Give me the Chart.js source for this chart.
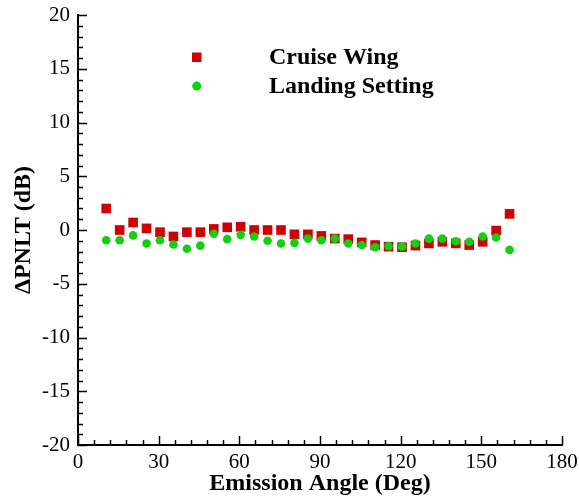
<!DOCTYPE html>
<html>
<head>
	<title></title>
	<script src="https://cdn.jsdelivr.net/npm/chart.js@4.4.1/dist/chart.umd.min.js"></script>
	<style>
		body { margin: 0; background: #fff; }
	</style>
</head>
<body>
	<canvas id="chart" width="579" height="498"></canvas>
	<script>
		// emission angles (deg)
		var angles = [10.5, 15.5, 20.5, 25.5, 30.5, 35.5, 40.5, 45.5, 50.5, 55.5, 60.5, 65.5, 70.5, 75.5, 80.5, 85.5,
			90.5, 95.5, 100.5, 105.5, 110.5, 115.5, 120.5, 125.5, 130.5, 135.5, 140.5, 145.5, 150.5, 155.5, 160.5];
		var cruiseWing = [2.0, 0.0, 0.7, 0.15, -0.2, -0.6, -0.2, -0.2, 0.1, 0.25, 0.3, 0.0, 0.0, 0.0, -0.4, -0.4,
			-0.55, -0.8, -0.85, -1.15, -1.4, -1.55, -1.6, -1.45, -1.25, -1.1, -1.25, -1.4, -1.1, -0.05, 1.5];
		var landingSetting = [-0.95, -0.95, -0.5, -1.25, -0.95, -1.35, -1.75, -1.45, -0.35, -0.85, -0.45, -0.6, -1.0, -1.25, -1.2, -0.8,
			-0.95, -0.8, -1.25, -1.4, -1.6, -1.5, -1.55, -1.25, -0.8, -0.8, -1.05, -1.1, -0.6, -0.7, -1.85];
		var xTicks = [0, 30, 60, 90, 120, 150, 180];
		var yTicks = [-20, -15, -10, -5, 0, 5, 10, 15, 20];

		var serif = "'Liberation Serif', 'Times New Roman', serif";

		function pts(ys) {
			var out = [];
			for (var i = 0; i < angles.length; i++) out.push({x: angles[i], y: ys[i]});
			return out;
		}

		// inward tick marks + legend
		var decor = {
			id: 'decor',
			afterDraw: function(chart) {
				var ctx = chart.ctx, a = chart.chartArea;
				var xs = chart.scales.x, ys = chart.scales.y;
				ctx.save();
				ctx.strokeStyle = '#000';
				ctx.lineWidth = 1.5;
				ctx.beginPath();
				for (var v = 0; v <= 180; v += 6) {
					var px = Math.round(xs.getPixelForValue(v)) + 0.5;
					var len = (v % 30 == 0) ? 9 : 5;
					ctx.moveTo(px, a.bottom);
					ctx.lineTo(px, a.bottom - len);
				}
				for (var w = -20; w <= 20; w += 1) {
					var py = Math.round(ys.getPixelForValue(w)) + 0.5;
					var l2 = (w % 5 == 0) ? 9 : 5;
					ctx.moveTo(a.left, py);
					ctx.lineTo(a.left + l2, py);
				}
				ctx.stroke();

				// legend
				var ds = chart.data.datasets;
				var ly = [57, 86];
				ctx.font = 'bold 24px ' + serif;
				ctx.textBaseline = 'middle';
				ctx.textAlign = 'left';
				for (var i = 0; i < ds.length; i++) {
					ctx.fillStyle = ds[i].backgroundColor;
					if (ds[i].pointStyle == 'rect') {
						ctx.fillRect(192, ly[i] - 4.5, 9.5, 9.5);
					} else {
						ctx.beginPath();
						ctx.arc(196.7, ly[i], 4.5, 0, Math.PI * 2);
						ctx.fill();
					}
					ctx.fillStyle = '#000';
					ctx.fillText(ds[i].label, 269, ly[i] + 1);
				}
				ctx.restore();
			}
		};

		var ctx = document.getElementById('chart').getContext('2d');
		window.chart = new Chart(ctx, {
			type: 'scatter',
			data: {
				datasets: [{
					label: 'Cruise Wing',
					data: pts(cruiseWing),
					order: 2,
					pointStyle: 'rect',
					pointRadius: 6.8,
					backgroundColor: '#d10000',
					borderWidth: 0
				},
				{
					label: 'Landing Setting',
					data: pts(landingSetting),
					order: 1,
					pointStyle: 'circle',
					pointRadius: 4.3,
					backgroundColor: '#10d010',
					borderWidth: 0
				}]
			},
			options: {
				responsive: false,
				animation: false,
				layout: { padding: { left: 0, right: 0, top: 0, bottom: 0 } },
				plugins: {
					legend: { display: false },
					tooltip: { enabled: false }
				},
				scales: {
					x: {
						type: 'linear',
						min: 0, max: 180,
						afterBuildTicks: function(s) { s.ticks = xTicks.map(function(v) { return {value: v}; }); },
						afterFit: function(s) { s.height = 53; s.paddingRight = 17; },
						grid: { display: true, drawOnChartArea: false, drawTicks: false },
						border: { color: '#000', width: 2 },
						ticks: { color: '#000', padding: 5, maxRotation: 0, font: { family: serif, size: 21 } },
						title: { display: true, text: 'Emission Angle (Deg)', color: '#000', padding: { top: 0, bottom: 0 },
							font: { family: serif, size: 24, weight: 'bold' } }
					},
					y: {
						type: 'linear',
						min: -20, max: 20,
						afterBuildTicks: function(s) { s.ticks = yTicks.map(function(v) { return {value: v}; }); },
						afterFit: function(s) { s.width = 78; s.paddingTop = 15; },
						grid: { display: true, drawOnChartArea: false, drawTicks: false },
						border: { color: '#000', width: 2 },
						ticks: { color: '#000', padding: 8, font: { family: serif, size: 21 } },
						title: { display: true, text: 'ΔPNLT (dB)', color: '#000', padding: { top: 9, bottom: 0 },
							font: { family: serif, size: 24, weight: 'bold' } }
					}
				}
			},
			plugins: [decor]
		});
	</script>
</body>
</html>
